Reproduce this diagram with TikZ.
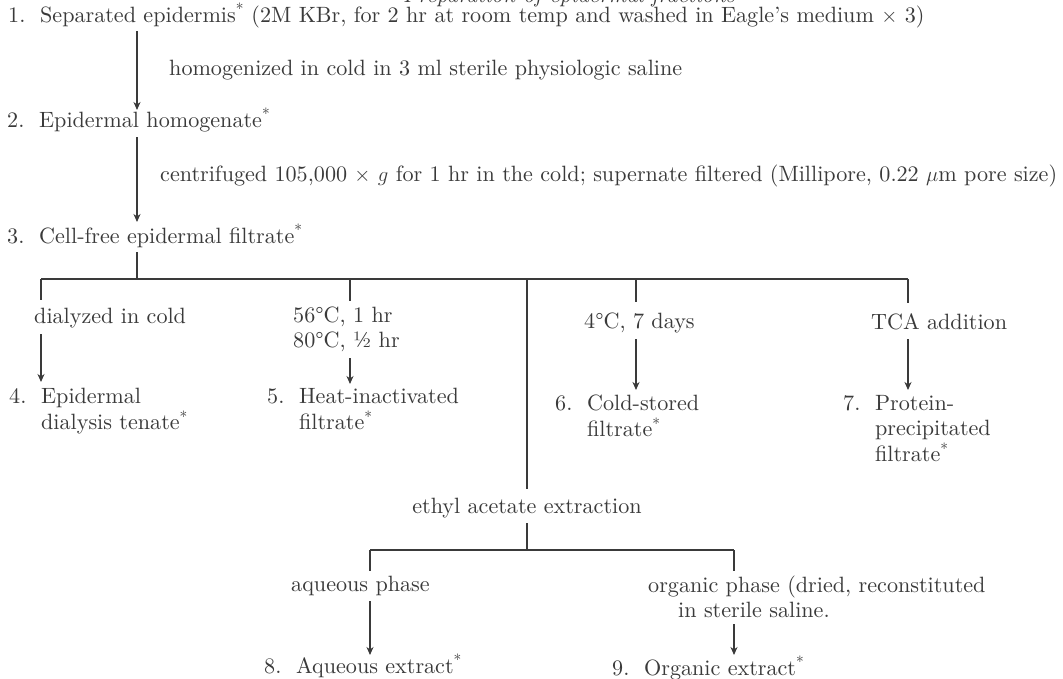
\documentclass[tikz,border=0pt]{standalone}
\usepackage{fontspec}
\setmainfont{lmroman10-regular.otf}[ItalicFont=lmroman10-italic.otf, BoldFont=lmroman10-bold.otf]
\usetikzlibrary{arrows.meta}
\definecolor{ink}{RGB}{58,58,58}
\newlength\Lone
\newcommand\stmark{\textsuperscript{*}}
\begin{document}
\settowidth{\Lone}{\fontsize{10pt}{12pt}\selectfont 1.\ \ Separated epidermis\stmark\ (2M KBr, for 2 hr at room temp and washed in Eagle's medium $\times$ 3)}%
\pgfmathsetmacro\fsz{10*918/\Lone}%
\pgfmathsetmacro\bsz{1.14*\fsz}%
\begin{tikzpicture}[x=1pt,y=-1pt]
\tikzset{
  every node/.style={inner sep=0pt, text=ink, font=\fontsize{\fsz pt}{\bsz pt}\selectfont},
  lbl/.style={anchor=base west},
  link/.style={draw=ink, line width=1.2pt},
  arr/.style={link, -{Stealth[length=8pt,width=7pt,inset=2.5pt]}}
}
\useasboundingbox (0,0) rectangle (1063,678);
\fill[white] (0,0) rectangle (1063,678);

% title (cut off at top)
\node[anchor=base] (title) at (569,2) {\itshape Preparation of epidermal fractions};

% main chain
\node[lbl] (n1) at (8,22) {1.\ \ Separated epidermis\stmark\ (2M KBr, for 2 hr at room temp and washed in Eagle's medium $\times$ 3)};
\node[lbl] (h1) at (169,75) {homogenized in cold in 3 ml sterile physiologic saline};
\node[lbl] (n2) at (7,127) {2.\ \ Epidermal homogenate\stmark};
\node[lbl] (c2) at (160,181) {centrifuged 105,000 $\times$ $g$ for 1 hr in the cold; supernate filtered (Millipore, 0.22 $\mu$m pore size)};
\node[lbl] (n3) at (7,243) {3.\ \ Cell-free epidermal filtrate\stmark};

\coordinate (a1s) at (137,31);  \coordinate (a1e) at (137,110);
\coordinate (a2s) at (137,137); \coordinate (a2e) at (137,222);
\draw[arr] (a1s) -- (a1e);
\draw[arr] (a2s) -- (a2e);

% first branching
\coordinate (s3) at (137,252);
\coordinate (j3) at (137,279);
\coordinate (bL) at (41,279);
\coordinate (bR) at (908,279);
\coordinate (b2) at (350,279);
\coordinate (b4) at (636,279);
\coordinate (b5) at (527,279);
\draw[link] (s3) -- (j3);
\draw[link] (bL) -- (bR);
\coordinate (d1) at (41,300);
\coordinate (d2) at (350,301);
\coordinate (d4) at (636,302);
\coordinate (d5) at (908,303);
\draw[link] (bL) -- (d1);
\draw[link] (b2) -- (d2);
\draw[link] (b4) -- (d4);
\draw[link] (bR) -- (d5);

\node[lbl] (t1) at (34,323) {dialyzed in cold};
\node[lbl] (t2) at (293,322) {\begin{tabular}[t]{@{}l@{}}56\textdegree C, 1 hr\\80\textdegree C, \textonehalf\ hr\end{tabular}};
\node[lbl] (t3) at (584,328) {4\textdegree C, 7 days};
\node[lbl] (t4) at (871,329) {TCA addition};

\coordinate (e1s) at (41,334);  \coordinate (e1e) at (41,382);
\coordinate (e2s) at (350,358); \coordinate (e2e) at (350,384);
\coordinate (e3s) at (636,339); \coordinate (e3e) at (636,390);
\coordinate (e4s) at (908,339); \coordinate (e4e) at (908,390);
\draw[arr] (e1s) -- (e1e);
\draw[arr] (e2s) -- (e2e);
\draw[arr] (e3s) -- (e3e);
\draw[arr] (e4s) -- (e4e);

\node[lbl] (n4) at (9,403) {\begin{tabular}[t]{@{}l@{\ \ }l@{}}4. & Epidermal\\ & dialysis tenate\stmark\end{tabular}};
\node[lbl] (n5) at (267,403) {\begin{tabular}[t]{@{}l@{\ \ }l@{}}5. & Heat-inactivated\\ & filtrate\stmark\end{tabular}};
\node[lbl] (n6) at (555,410) {\begin{tabular}[t]{@{}l@{\ \ }l@{}}6. & Cold-stored\\ & filtrate\stmark\end{tabular}};
\node[lbl] (n7) at (843,410) {\begin{tabular}[t]{@{}l@{\ \ }l@{}}7. & Protein-\\ & precipitated\\ & filtrate\stmark\end{tabular}};

% ethyl acetate extraction
\node[anchor=base] (ea) at (527,513) {ethyl acetate extraction};
\coordinate (b5e) at (527,489);
\draw[link] (b5) -- (b5e);
\coordinate (s6) at (527,523);
\coordinate (j6) at (527,550);
\draw[link] (s6) -- (j6);
\coordinate (cL) at (370,550);
\coordinate (cR) at (734,550);
\draw[link] (cL) -- (cR);
\coordinate (f1) at (370,571);
\coordinate (f2) at (734,571);
\draw[link] (cL) -- (f1);
\draw[link] (cR) -- (f2);

\node[lbl] (p1) at (291,591) {aqueous phase};
\node[lbl] (p2) at (648,592) {\begin{tabular}[t]{@{}l@{}}organic phase (dried, reconstituted\\\hspace{30pt}in sterile saline.\end{tabular}};

\coordinate (g1s) at (370,601); \coordinate (g1e) at (370,655);
\coordinate (g2s) at (734,624); \coordinate (g2e) at (734,655);
\draw[arr] (g1s) -- (g1e);
\draw[arr] (g2s) -- (g2e);

\node[lbl] (n8) at (264,673) {8.\ \ Aqueous extract\stmark};
\node[lbl] (n9) at (612,675) {9.\ \ Organic extract\stmark};
\end{tikzpicture}
\end{document}
